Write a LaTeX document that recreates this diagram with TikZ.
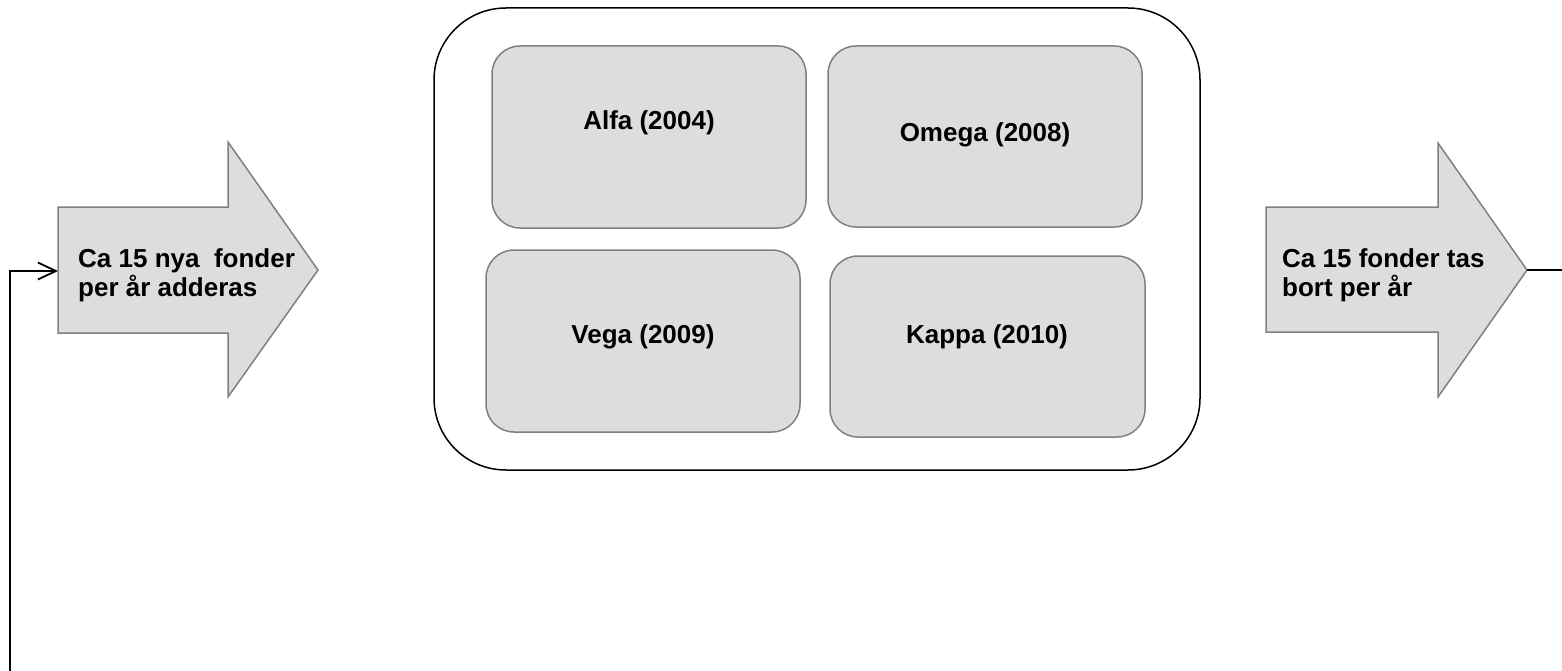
\documentclass[tikz,border=0pt]{standalone}
\usepackage{fontspec}
\setmainfont{Liberation Sans}
\usetikzlibrary{arrows.meta}
\definecolor{boxfill}{RGB}{221,221,221}
\definecolor{boxline}{RGB}{128,128,128}
\begin{document}
\begin{tikzpicture}[x=1pt,y=-1pt,
  fundbox/.style={draw=boxline, fill=boxfill, line width=1.5pt, rounded corners=28pt,
                  inner sep=0pt, outer sep=0pt, anchor=north west},
  poolbox/.style={draw=black, line width=1.5pt, rounded corners=72pt,
                  inner sep=0pt, outer sep=0pt, anchor=north west},
  bigarrow/.style={draw=boxline, fill=boxfill, line width=1.5pt, line join=miter},
  lbl/.style={font=\fontsize{26}{29}\selectfont\bfseries, inner sep=0pt},
  flow/.style={line width=2pt}]
\useasboundingbox (0,0) rectangle (1562,671);

% the pool of funds
\node[poolbox, minimum width=766pt, minimum height=462pt] (pool) at (434,8) {};
\node[fundbox, minimum width=314pt, minimum height=182pt] (alfa)  at (492,46)  {};
\node[fundbox, minimum width=314pt, minimum height=181pt] (omega) at (828,46)  {};
\node[fundbox, minimum width=314pt, minimum height=182pt] (vega)  at (486,250) {};
\node[fundbox, minimum width=315pt, minimum height=181pt] (kappa) at (830,256) {};
\node[lbl] (alfaT)  at (649,123) {Alfa (2004)};
\node[lbl] (omegaT) at (985,135) {Omega (2008)};
\node[lbl] (vegaT)  at (643,337) {Vega (2009)};
\node[lbl] (kappaT) at (987,337) {Kappa (2010)};

% inflow arrow
\draw[bigarrow] (58,207) -- (228,207) -- (228,142) -- (318,270) -- (228,397)
  -- (228,333) -- (58,333) -- cycle;
\node[lbl, align=left, anchor=west] (inT) at (78,275) {Ca 15 nya\ \ fonder\\per år adderas};
\coordinate (inL) at (58,271);

% outflow arrow
\draw[bigarrow] (1266,207) -- (1438,207) -- (1438,143) -- (1527,270) -- (1438,397)
  -- (1438,332) -- (1266,332) -- cycle;
\node[lbl, align=left, anchor=west] (outT) at (1282,275) {Ca 15 fonder tas\\bort per år};
\coordinate (outTip) at (1527,270);

% connectors
\coordinate (fbStart) at (10,673);
\coordinate (outEnd) at (1563,270);
\draw[flow, -{Straight Barb[length=18pt,width=17pt,line width=1.8pt]}] (fbStart) |- (inL);
\draw[flow] (outTip) -- (outEnd);
\end{tikzpicture}
\end{document}
